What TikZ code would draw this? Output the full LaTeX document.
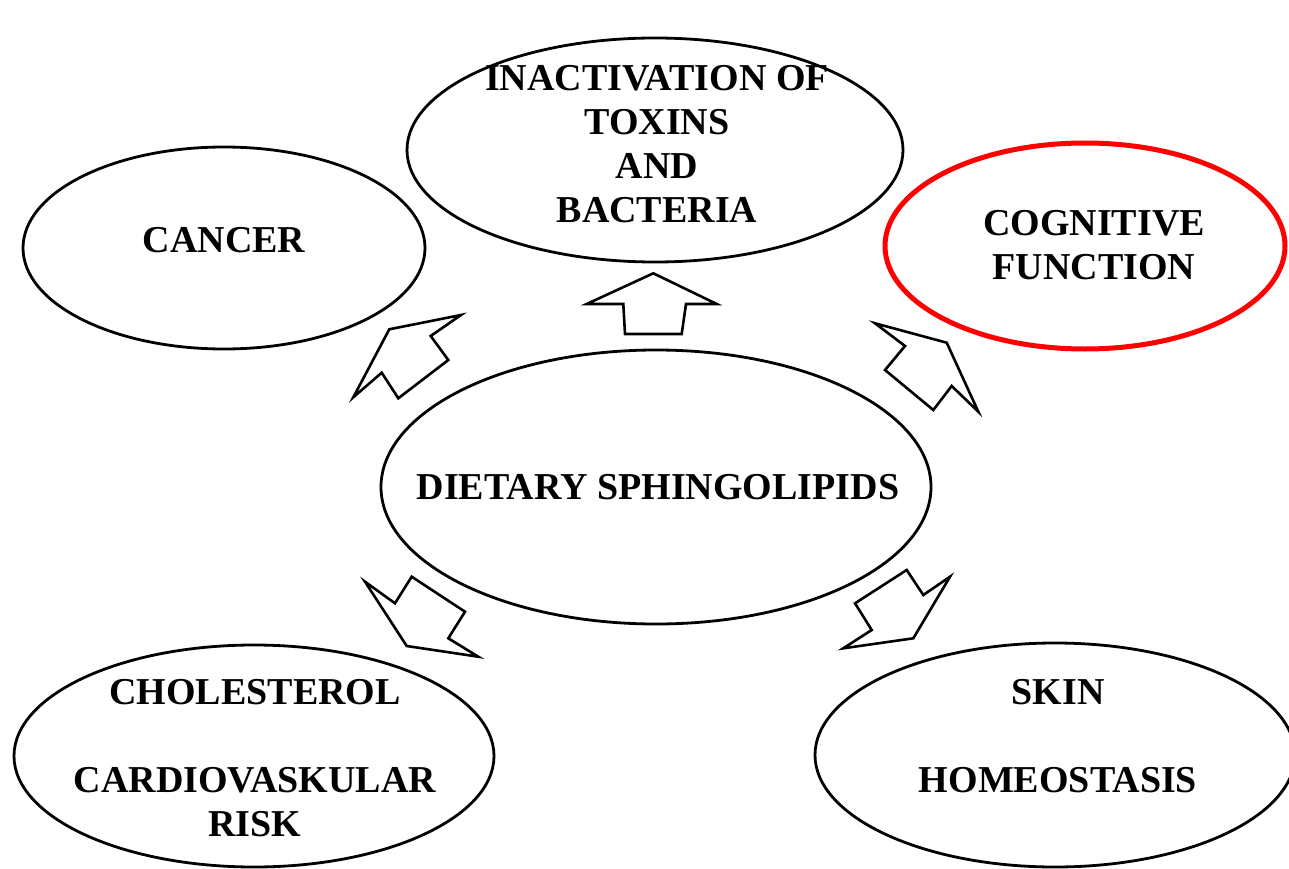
\documentclass[tikz,border=0pt]{standalone}
\usepackage{fontspec}
\setmainfont{Liberation Serif}
\usetikzlibrary{shapes.geometric}
\tikzset{
  topic/.style      = {ellipse, draw=black, line width=2.8pt, inner sep=0pt},
  focus/.style      = {topic, draw=red, line width=5pt},
  caption/.style    = {align=center, inner sep=0pt, font=\fontsize{38}{44}\selectfont\bfseries},
  blockarrow/.style = {draw=black, line width=2.6pt, fill=white, line join=miter},
}

\begin{document}
\begin{tikzpicture}[x=1pt, y=-1pt]
  \useasboundingbox (0,0) rectangle (1289,869);
  \clip (0,0) rectangle (1289,869);
  % outcomes
  \node[topic, minimum width=496pt, minimum height=224pt] (toxins) at (655,150) {};
  \node[topic, minimum width=402pt, minimum height=202pt] (cancer) at (224,248) {};
  \node[focus, minimum width=400pt, minimum height=206pt] (cognitive) at (1085,246) {};
  \node[topic, minimum width=480pt, minimum height=222pt] (cholesterol) at (254,756) {};
  \node[topic, minimum width=480pt, minimum height=224pt] (skin) at (1055,755) {};
  % source
  \node[topic, minimum width=550pt, minimum height=274pt] (diet) at (656,487) {};
  % texts
  \node[caption] (toxinstxt) at (657,144.5) {INACTIVATION OF\\TOXINS\\AND\\BACTERIA};
  \node[caption] (cancertxt) at (224,240) {CANCER};
  \node[caption] (cognitivetxt) at (1094,245.5) {COGNITIVE\\FUNCTION};
  \node[caption] (cholesteroltxt) at (255,758.5) {CHOLESTEROL\\[44pt]CARDIOVASKULAR\\RISK};
  \node[caption] (skintxt) at (1058,736) {SKIN\\[44pt]HOMEOSTASIS};
  \node[caption] (diettxt) at (658,487) {DIETARY SPHINGOLIPIDS};
  % block arrows
  \draw[blockarrow] (653.3,273.3) -- (716.7,304) -- (686,304) -- (681.7,334) -- (625,334) -- (623.3,304) -- (586.7,304) -- cycle;
  \draw[blockarrow] (389.3,329.3) -- (461,315) -- (430.7,336) -- (448.3,360) -- (398.3,398.3) -- (381.7,372.7) -- (353.3,397.3) -- cycle;
  \draw[blockarrow] (946.7,342.7) -- (978.3,411.7) -- (951.7,386) -- (933.3,410) -- (885,370) -- (905,346) -- (875,323.3) -- cycle;
  \draw[blockarrow] (406.7,646) -- (365,581.7) -- (395,603.3) -- (411.7,576.7) -- (465,611.7) -- (448.3,638.3) -- (478.3,656.7) -- cycle;
  \draw[blockarrow] (913.3,638.3) -- (843.3,648.3) -- (871.7,630) -- (855,603.3) -- (906.7,570) -- (923.3,595) -- (950,576.7) -- cycle;
\end{tikzpicture}
\end{document}
